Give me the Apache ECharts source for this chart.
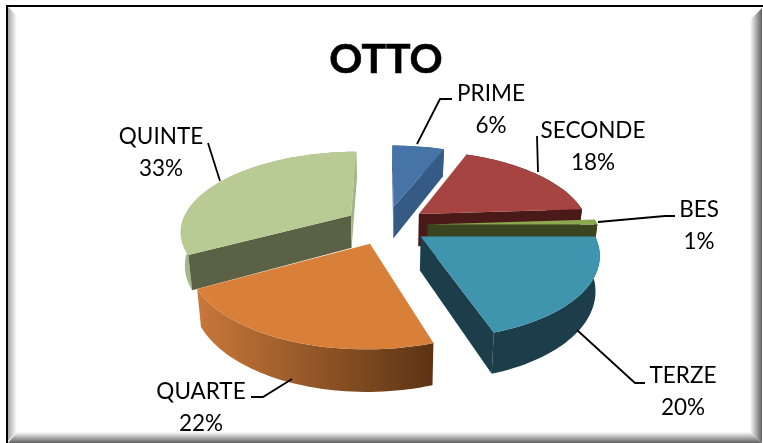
<!DOCTYPE html>
<html>
<head>
<meta charset="utf-8">
<style>
html,body{margin:0;padding:0;background:#fff;}
#chart{width:763px;height:443px;}
</style>
<script src="https://cdn.jsdelivr.net/npm/echarts@6/dist/echarts.min.js"></script>
</head>
<body>
<div id="chart"></div>
<script>
var categories = ['PRIME', 'SECONDE', 'BES', 'TERZE', 'QUARTE', 'QUINTE'];
var values = [6, 18, 1, 20, 22, 33];

// colours per slice: top face, cut face, outer wall left, outer wall right
var topColors = ['#4674A9', '#A64441', '#8BA84E', '#3F94AE', '#D8803A', '#B9CB94'];
var cutColors = ['#355A85', '#4A1A18', '#3A451F', '#1C3E4B', '#6A3C18', '#5A6145'];
var wallLeft = ['#355A85', '#4A1A18', '#3A451F', '#1C3E4B', '#C8783A', '#A3B58A'];
var wallRight = ['#355A85', '#4A1A18', '#3A451F', '#1C3E4B', '#5C3414', '#A3B58A'];

// label layout: text centre, then leader line from the slice outwards
var labelCenter = [[491, 110], [593, 147], [699, 226], [683, 392], [201, 408], [161, 153]];
var leaders = [
    [[417, 144], [440, 99], [452, 99]],
    [[538, 172], [537, 136]],
    [[598, 222], [665, 216], [675, 216]],
    [[577, 330], [635, 383], [645, 383]],
    [[292, 379], [263, 397], [251, 397]],
    [[220, 181], [208, 143]]
];

// perspective of the pie
var cx = 386, cy = 225, R = 170, tilt = 0.462, persp = 0.183, explode = 0.245, depth = 33, shrink = 0.98;

var total = values.reduce(function (a, b) { return a + b; }, 0);
var bounds = [0];
values.forEach(function (v, i) { bounds.push(bounds[i] + v / total * Math.PI * 2); });
var mids = values.map(function (v, i) { return (bounds[i] + bounds[i + 1]) / 2; });

// far slices are painted first
var order = values.map(function (v, i) { return i; }).sort(function (a, b) {
    return Math.cos(mids[b]) - Math.cos(mids[a]);
});

function project(i, r, a, low) {
    var u = explode * Math.sin(mids[i]) + r * Math.sin(a);
    var v = explode * Math.cos(mids[i]) + r * Math.cos(a);
    var d = 1 + persp * v;
    var x = R * u / d, y = -R * tilt * v / d;
    if (low) {
        return [cx + x * shrink, cy + y + depth / d];
    }
    return [cx + x, cy + y];
}

function cross(q) {
    var ax = q[1][0] - q[0][0], ay = q[1][1] - q[0][1];
    var bx = q[2][0] - q[1][0], by = q[2][1] - q[1][1];
    return ax * by - ay * bx;
}

function renderSlice(params, api) {
    var i = params.dataIndex;
    var a0 = bounds[i], a1 = bounds[i] + api.value(0) / total * Math.PI * 2;
    var steps = Math.max(2, Math.ceil((a1 - a0) / 0.03));
    var rimTop = [], rimLow = [];
    for (var s = 0; s <= steps; s++) {
        var a = a0 + (a1 - a0) * s / steps;
        rimTop.push(project(i, 1, a, false));
        rimLow.push(project(i, 1, a, true));
    }
    var apexTop = project(i, 0, 0, false), apexLow = project(i, 0, 0, true);
    var rank = order.indexOf(i);
    var children = [];
    var xs = rimTop.map(function (p) { return p[0]; });
    var minX = Math.min.apply(null, xs), maxX = Math.max.apply(null, xs);
    children.push({
        type: 'polygon',
        z2: rank * 10,
        shape: { points: rimTop.concat(rimLow.slice().reverse()) },
        style: {
            fill: new echarts.graphic.LinearGradient(minX, 0, maxX, 0, [
                { offset: 0, color: wallLeft[i] },
                { offset: 1, color: wallRight[i] }
            ], true)
        }
    });
    var startFace = [apexTop, rimTop[0], rimLow[0], apexLow];
    var endFace = [apexTop, rimTop[steps], rimLow[steps], apexLow];
    if (cross(startFace) < 0) {
        children.push({ type: 'polygon', z2: rank * 10 + 1, shape: { points: startFace }, style: { fill: cutColors[i] } });
    }
    if (cross(endFace) > 0) {
        children.push({ type: 'polygon', z2: rank * 10 + 1, shape: { points: endFace }, style: { fill: wallLeft[i] } });
    }
    children.push({
        type: 'polygon',
        z2: rank * 10 + 2,
        shape: { points: [apexTop].concat(rimTop) },
        style: { fill: topColors[i] }
    });
    return { type: 'group', children: children };
}

function bevel(points, x0, y0, x1, y1, from, to) {
    return {
        type: 'polygon', silent: true, z: 1,
        shape: { points: points },
        style: {
            fill: new echarts.graphic.LinearGradient(x0, y0, x1, y1, [
                { offset: 0, color: from }, { offset: 1, color: to }
            ], true)
        }
    };
}

var frame = [
    bevel([[8, 7], [17, 16], [17, 432], [8, 441]], 8, 0, 17, 0, '#a8a8a8', '#ffffff'),
    bevel([[750, 20], [762, 8], [762, 443], [750, 432]], 750, 0, 762, 0, '#ffffff', '#606060'),
    bevel([[8, 443], [17, 432], [750, 432], [762, 443]], 0, 432, 0, 443, '#ffffff', '#606060'),
    { type: 'rect', silent: true, z: 2, shape: { x: 6, y: 5, width: 757, height: 2 }, style: { fill: '#000' } },
    { type: 'rect', silent: true, z: 2, shape: { x: 6, y: 5, width: 2, height: 438 }, style: { fill: '#000' } }
];

var labelMarks = [];
categories.forEach(function (name, i) {
    labelMarks.push({
        type: 'polyline', silent: true, z: 50,
        shape: { points: leaders[i] },
        style: { stroke: '#000', lineWidth: 1.8, fill: null }
    });
    labelMarks.push({
        type: 'text', silent: true, z: 50,
        x: labelCenter[i][0], y: labelCenter[i][1],
        style: {
            text: name + '\n' + values[i] + '%',
            fill: '#000', font: '22.5px Lato', lineHeight: 32,
            align: 'center', verticalAlign: 'middle'
        }
    });
});

var chart = echarts.init(document.getElementById('chart'), null, { renderer: 'canvas' });
chart.setOption({
    animation: false,
    backgroundColor: '#fff',
    title: {
        text: 'OTTO',
        left: 381, top: 34, textAlign: 'center',
        textStyle: { color: '#000', fontFamily: 'Lato', fontWeight: 'bold', fontSize: 41, textBorderColor: '#000', textBorderWidth: 0.6 }
    },
    graphic: { elements: frame.concat(labelMarks) },
    series: [{
        type: 'custom',
        coordinateSystem: 'none',
        silent: true,
        data: values,
        renderItem: renderSlice
    }]
});
</script>
</body>
</html>
